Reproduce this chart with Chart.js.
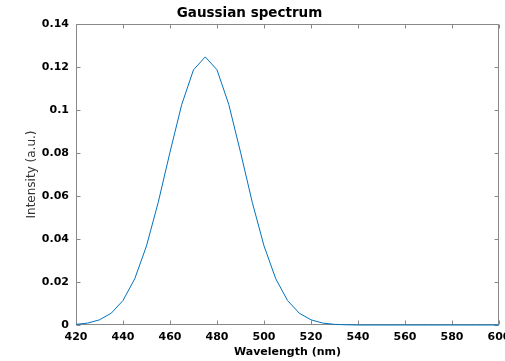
<!DOCTYPE html>
<html>
<head>
<meta charset="utf-8">
<script src="https://cdn.jsdelivr.net/npm/chart.js@4/dist/chart.umd.min.js"></script>
<style>
html,body{margin:0;padding:0;background:#fff;overflow:hidden}
canvas{display:block}
</style>
</head>
<body>
<canvas id="c" width="505" height="361"></canvas>
<script>
// ---- data ----
const wavelengths = [420,425,430,435,440,445,450,455,460,465,470,475,480,485,490,495,500,505,510,515,520,525,530,535,540,545,550,555,560,565,570,575,580,585,590,595,600];
const intensity   = [0.0003,0.0009,0.0024,0.0055,0.0114,0.0215,0.0368,0.0571,0.0804,0.1026,0.1187,0.1247,0.1187,0.1026,0.0804,0.0571,0.0368,0.0215,0.0114,0.0055,0.0024,0.0009,0.0003,0.0001,0,0,0,0,0,0,0,0,0,0,0,0,0];
const xTickValues = [420,440,460,480,500,520,540,560,580,600];
const xTickLabels = ['420','440','460','480','500','520','540','560','580','600'];
const yTickValues = [0,0.02,0.04,0.06,0.08,0.1,0.12,0.14];
const yTickLabels = ['0','0.02','0.04','0.06','0.08','0.1','0.12','0.14'];
const titleText = 'Gaussian spectrum';
const xTitleText = 'Wavelength (nm)';
const yTitleText = 'Intensity (a.u.)';

const points = wavelengths.map((w, i) => ({x: w, y: intensity[i]}));

const AXIS_COLOR = '#888888';
const FONT = "'DejaVu Sans', sans-serif";

const boxPlugin = {
  id: 'matlabBox',
  beforeDatasetsDraw(chart) {
    const {ctx, chartArea, scales} = chart;
    const L = Math.round(chartArea.left) + 0.5;
    const R = Math.round(chartArea.right) - 0.5;
    const T = Math.round(chartArea.top) + 0.5;
    const B = Math.round(chartArea.bottom) - 0.5;
    ctx.save();
    ctx.strokeStyle = AXIS_COLOR;
    ctx.lineWidth = 1;
    ctx.beginPath();
    ctx.rect(L, T, R - L, B - T);
    const tl = 4;
    scales.x.ticks.forEach(t => {
      const px = Math.round(scales.x.getPixelForValue(t.value)) + 0.5;
      ctx.moveTo(px, B); ctx.lineTo(px, B - tl);
      ctx.moveTo(px, T); ctx.lineTo(px, T + tl);
    });
    scales.y.ticks.forEach(t => {
      const py = Math.round(scales.y.getPixelForValue(t.value)) + 0.5;
      ctx.moveTo(L, py); ctx.lineTo(L + tl, py);
      ctx.moveTo(R, py); ctx.lineTo(R - tl, py);
    });
    ctx.stroke();
    ctx.restore();
  }
};

new Chart(document.getElementById('c'), {
  type: 'line',
  data: {
    datasets: [{
      data: points,
      borderColor: '#0072BD',
      borderWidth: 1,
      pointRadius: 0,
      tension: 0,
      fill: false,
      clip: false
    }]
  },
  options: {
    responsive: false,
    animation: false,
    devicePixelRatio: 1,
    layout: {padding: {top: 0, right: 6, bottom: 0, left: 0}},
    plugins: {
      legend: {display: false},
      tooltip: {enabled: false},
      title: {
        display: true,
        text: titleText,
        color: '#000',
        font: {family: FONT, size: 13.5, weight: 'bold'},
        padding: {top: 5.3, bottom: 2.5}
      }
    },
    scales: {
      x: {
        type: 'linear',
        min: 420, max: 600,
        afterBuildTicks: s => { s.ticks = xTickValues.map(v => ({value: v})); },
        afterFit: s => { s.height = 36; s.paddingLeft = 0; s.paddingRight = 0; },
        grid: {display: false, drawTicks: false},
        border: {display: false},
        ticks: {
          color: '#000',
          font: {family: FONT, size: 11, weight: 'bold'},
          padding: 6,
          maxRotation: 0,
          autoSkip: false,
          callback: (v, i) => xTickLabels[i]
        },
        title: {
          display: true,
          text: xTitleText,
          color: '#000',
          font: {family: FONT, size: 11, weight: 'bold'},
          padding: {top: 0, bottom: 2}
        }
      },
      y: {
        type: 'linear',
        min: 0, max: 0.14,
        afterBuildTicks: s => { s.ticks = yTickValues.map(v => ({value: v})); },
        afterFit: s => { s.width = 76; s.paddingTop = 0; s.paddingBottom = 0; },
        grid: {display: false, drawTicks: false},
        border: {display: false},
        ticks: {
          color: '#000',
          font: {family: FONT, size: 11, weight: 'bold'},
          padding: 7,
          autoSkip: false,
          callback: (v, i) => yTickLabels[i]
        },
        title: {
          display: true,
          text: yTitleText,
          color: '#333',
          font: {family: FONT, size: 12, weight: 'normal'},
          padding: {top: 24.8, bottom: 0}
        }
      }
    }
  },
  plugins: [boxPlugin]
});
</script>
</body>
</html>
